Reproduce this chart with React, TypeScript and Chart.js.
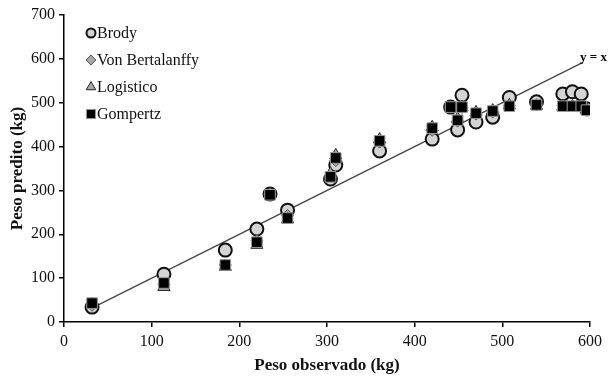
import React, { useEffect, useRef } from 'react';
import { Chart, registerables } from 'chart.js';
import { drawPoint } from 'chart.js/helpers';

Chart.register(...registerables);

const observed = [32, 114, 184, 220, 235, 255, 304, 310, 360, 420, 441, 449, 454, 470, 489, 508, 539, 569, 580, 590, 596];
const brody = [34, 109, 164, 212, 292, 255, 326, 358, 390, 417, 490, 438, 517, 456, 467, 512, 502, 520, 525, 520, 486];
const vonBertalanffy = [38, 85, 130, 185, 291, 243, 333, 368, 410, 437, 489, 458, 489, 474, 479, 493, 495, 493, 493, 493, 484];
const logistico = [40, 80, 126, 176, 292, 234, 338, 380, 416, 444, 489, 463, 490, 478, 482, 494, 493, 491, 491, 491, 484];
const gompertz = [43, 89, 130, 182, 290, 237, 331, 374, 413, 442, 490, 460, 490, 476, 481, 492, 495, 492, 492, 492, 483];
const identityLine = [30, 592];

const seriesNames = ['Brody', 'Von Bertalanffy', 'Logistico', 'Gompertz'];
const xTicks = [0, 100, 200, 300, 400, 500, 600];
const yTicks = [0, 100, 200, 300, 400, 500, 600, 700];

const FONT = "'Liberation Serif', 'Times New Roman', serif";

const styles = [
  { pointStyle: 'circle', backgroundColor: '#d4d4d4', borderColor: '#111', borderWidth: 2, radius: 6.5, lr: 4.5 },
  { pointStyle: 'rectRot', backgroundColor: '#a8a8a8', borderColor: '#555', borderWidth: 1, radius: 6, lr: 5 },
  { pointStyle: 'triangle', backgroundColor: '#a8a8a8', borderColor: '#222', borderWidth: 1, radius: 7, lr: 5.5 },
  { pointStyle: 'rect', backgroundColor: '#000', borderColor: '#999', borderWidth: 1, radius: 7.5, lr: 6.5 },
];

const legendPlugin = {
  id: 'customLegend',
  afterDraw(chart: any) {
    const ctx = chart.ctx;
    ctx.save();
    const ys = [33, 60, 87, 114];
    seriesNames.forEach((name, i) => {
      const s = styles[i];
      ctx.fillStyle = s.backgroundColor;
      ctx.strokeStyle = s.borderColor;
      ctx.lineWidth = s.borderWidth;
      drawPoint(ctx, { pointStyle: s.pointStyle as any, radius: s.lr, rotation: 0, borderWidth: s.borderWidth }, 91, ys[i]);
      ctx.fillStyle = '#111';
      ctx.font = `16px ${FONT}`;
      ctx.textBaseline = 'middle';
      ctx.textAlign = 'left';
      ctx.fillText(name, 97, ys[i] + 1);
    });
    ctx.font = `bold 13px ${FONT}`;
    ctx.fillStyle = '#000';
    ctx.textBaseline = 'middle';
    ctx.fillText('y = x', 580, 58);
    ctx.restore();
  },
};

export default function App() {
  const ref = useRef<HTMLCanvasElement>(null);
  useEffect(() => {
    document.body.style.margin = '0';
    const seriesData = [brody, vonBertalanffy, logistico, gompertz];
    const datasets: any[] = seriesData.map((arr, i) => ({
      type: 'scatter',
      label: seriesNames[i],
      data: observed.map((x, j) => ({ x, y: arr[j] })),
      pointStyle: styles[i].pointStyle,
      pointRadius: styles[i].radius,
      pointBackgroundColor: styles[i].backgroundColor,
      pointBorderColor: styles[i].borderColor,
      pointBorderWidth: styles[i].borderWidth,
      order: 10 - i,
    }));
    datasets.push({
      type: 'line',
      label: 'y = x',
      data: identityLine.map((v) => ({ x: v, y: v })),
      borderColor: '#444',
      borderWidth: 1.2,
      pointRadius: 0,
      fill: false,
      order: 20,
    });
    const chart = new Chart(ref.current!, {
      type: 'scatter',
      data: { datasets },
      options: {
        animation: false,
        responsive: false,
        layout: { padding: { top: 15, right: 25, left: 0, bottom: 0 } },
        plugins: { legend: { display: false }, tooltip: { enabled: false } },
        scales: {
          x: {
            type: 'linear',
            min: 0,
            max: 600,
            afterBuildTicks: (s: any) => { s.ticks = xTicks.map((v) => ({ value: v })); },
            afterFit: (s: any) => { s.height = 56; },
            ticks: { color: '#111', font: { family: FONT, size: 16 }, padding: 5 },
            grid: { display: true, drawOnChartArea: false, drawTicks: true, tickLength: 5, color: '#000', lineWidth: 1.5 },
            border: { color: '#000', width: 1.5 },
            title: { display: true, text: 'Peso observado (kg)', color: '#111', font: { family: FONT, size: 17, weight: 'bold' }, padding: { top: 2, bottom: 2 } },
          },
          y: {
            type: 'linear',
            min: 0,
            max: 700,
            afterBuildTicks: (s: any) => { s.ticks = yTicks.map((v) => ({ value: v })); },
            afterFit: (s: any) => { s.width = 64; },
            ticks: { color: '#111', font: { family: FONT, size: 16 }, padding: 4 },
            grid: { display: true, drawOnChartArea: false, drawTicks: true, tickLength: 5, color: '#000', lineWidth: 1.5 },
            border: { color: '#000', width: 1.5 },
            title: { display: true, text: 'Peso predito (kg)', color: '#111', font: { family: FONT, size: 17, weight: 'bold' }, padding: { top: 7, bottom: 2 } },
          },
        },
      } as any,
      plugins: [legendPlugin],
    });
    return () => chart.destroy();
  }, []);
  return (
    <div style={{ width: 615, height: 378 }}>
      <canvas ref={ref} width={615} height={378} style={{ display: 'block' }} />
    </div>
  );
}
